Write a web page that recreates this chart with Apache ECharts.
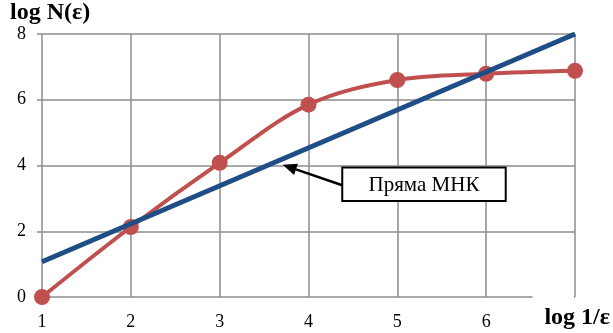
<!DOCTYPE html>
<html><head><meta charset="utf-8">
<script src="https://cdn.jsdelivr.net/npm/echarts@6/dist/echarts.min.js"></script>
<style>html,body{margin:0;padding:0;background:#fff}#c{width:613px;height:333px}</style>
</head><body><div id="c"></div>
<script>
const xValues = [1, 2, 3, 4, 5, 6, 7];
const measured = [0, 2.13, 4.08, 5.85, 6.6, 6.79, 6.88];
const fitX = [1, 7];
const fitY = [1.07, 8.0];
const xTicks = [1, 2, 3, 4, 5, 6];
const yTicks = [0, 2, 4, 6, 8];
const annotationText = 'Пряма МНК';

const chart = echarts.init(document.getElementById('c'));
const serif = '"Liberation Serif","Times New Roman",serif';
chart.setOption({
  animation: false,
  backgroundColor: '#fff',
  grid: {left: 42, right: 37, top: 34, bottom: 36},
  xAxis: {
    type: 'value', min: 1, max: 7, interval: 1,
    axisLine: {show: false},
    axisTick: {show: false},
    splitLine: {show: true, lineStyle: {color: '#8c8c8c', width: 1.5}},
    axisLabel: {fontFamily: serif, fontSize: 18, color: '#000', margin: 16,
      formatter: v => xTicks.includes(v) ? String(v) : ''},
    name: 'log 1/ε', nameLocation: 'end', nameGap: 0,
    nameTextStyle: {fontFamily: serif, fontSize: 24, fontWeight: 'bold', color: '#000',
      align: 'right', verticalAlign: 'top', padding: [9, -35, 0, 0]}
  },
  yAxis: {
    type: 'value', min: 0, max: 8, interval: 2,
    axisLine: {show: false},
    axisTick: {show: true, length: 5, lineStyle: {color: '#8c8c8c', width: 1.5}},
    splitLine: {show: true, lineStyle: {color: '#8c8c8c', width: 1.5}},
    axisLabel: {fontFamily: serif, fontSize: 18, color: '#000', margin: 16,
      formatter: v => yTicks.includes(v) ? String(v) : ''},
    name: 'log N(ε)', nameLocation: 'end', nameGap: 6,
    nameTextStyle: {fontFamily: serif, fontSize: 24, fontWeight: 'bold', color: '#000',
      align: 'left', padding: [0, 0, 0, -32]}
  },
  series: [
    {
      type: 'line', data: xValues.map((x, i) => [x, measured[i]]),
      smooth: 0.35, symbol: 'circle', symbolSize: 16,
      lineStyle: {color: '#c0504d', width: 4},
      itemStyle: {color: '#c0504d'}, z: 3
    },
    {
      type: 'line', data: fitX.map((x, i) => [x, fitY[i]]),
      symbol: 'none', lineStyle: {color: '#1f4e86', width: 5}, z: 4
    }
  ]
});

function px(p) { return chart.convertToPixel({gridIndex: 0}, p); }
const boxTL = px([4.38, 3.94]);
const boxBR = px([6.22, 2.92]);
const arrowStart = px([4.38, 3.4]);
const arrowEnd = px([3.71, 4.02]);
const lineEndA = px([6.5, 0]);
const lineEndB = px([7, 0]);
const dx = arrowEnd[0] - arrowStart[0], dy = arrowEnd[1] - arrowStart[1];
const ang = Math.atan2(dy, dx);
const L = 14, W = 6;
const base = [arrowEnd[0] - L * Math.cos(ang), arrowEnd[1] - L * Math.sin(ang)];
const head = [
  arrowEnd,
  [base[0] + W * Math.sin(ang), base[1] - W * Math.cos(ang)],
  [base[0] - W * Math.sin(ang), base[1] + W * Math.cos(ang)]
];
chart.setOption({
  graphic: [
    {type: 'rect', z: 1, shape: {x: lineEndA[0] + 2, y: lineEndA[1] - 2, width: lineEndB[0] - lineEndA[0] - 3, height: 4},
      style: {fill: '#fff'}},
    {type: 'line', z: 10, shape: {x1: arrowStart[0], y1: arrowStart[1], x2: base[0], y2: base[1]},
      style: {stroke: '#000', lineWidth: 2.5}},
    {type: 'polygon', z: 10, shape: {points: head}, style: {fill: '#000'}},
    {type: 'rect', z: 10, shape: {x: boxTL[0], y: boxTL[1], width: boxBR[0] - boxTL[0], height: boxBR[1] - boxTL[1]},
      style: {fill: '#fff', stroke: '#000', lineWidth: 2}},
    {type: 'text', z: 11, x: (boxTL[0] + boxBR[0]) / 2, y: (boxTL[1] + boxBR[1]) / 2 + 1,
      style: {text: annotationText, font: '21px ' + serif, fill: '#000', align: 'center', verticalAlign: 'middle'}}
  ]
});
</script></body></html>
